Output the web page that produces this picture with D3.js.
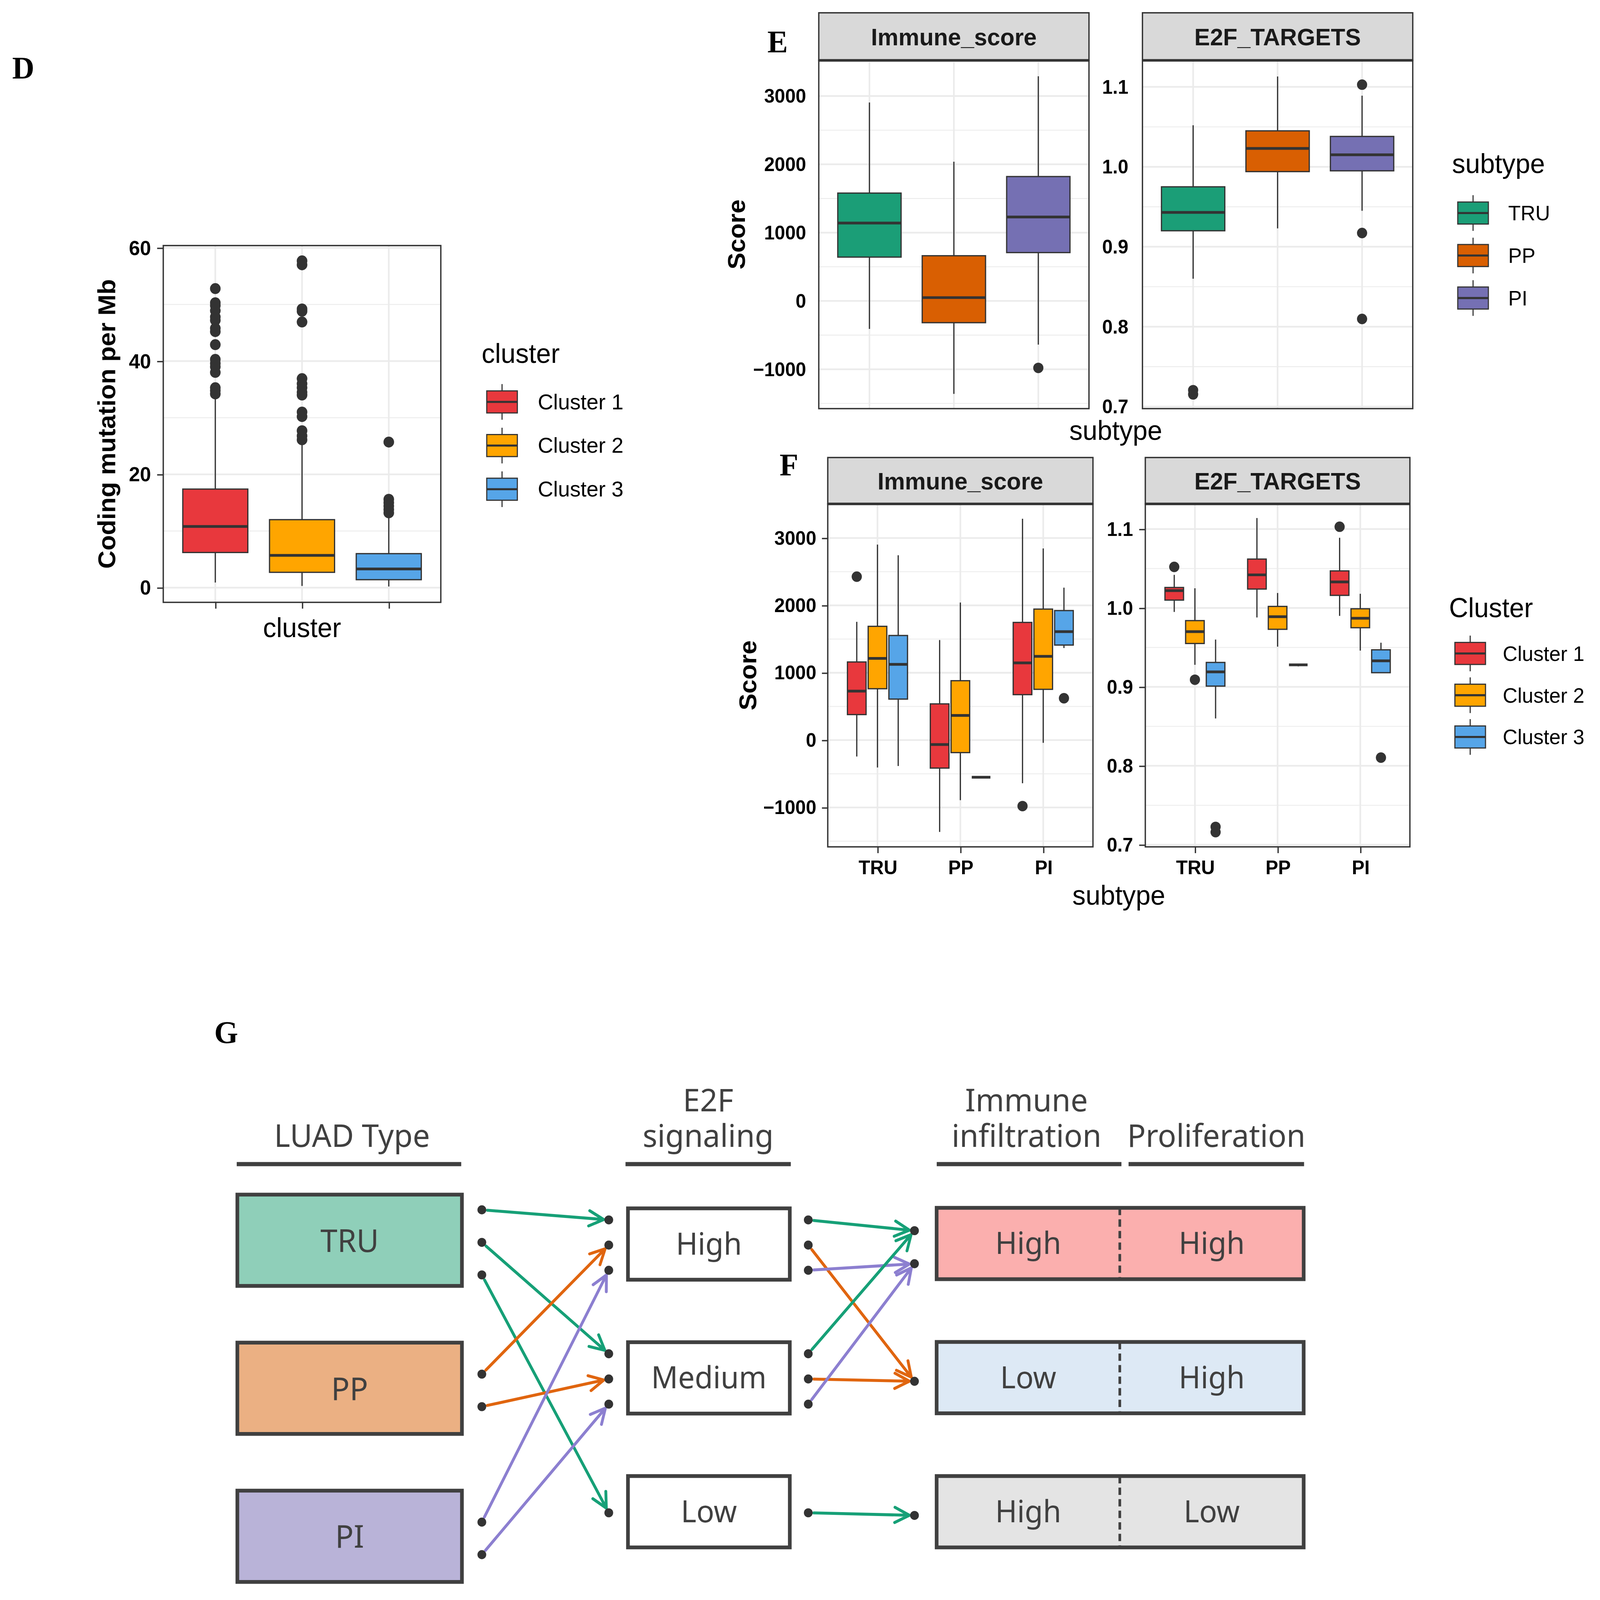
<!DOCTYPE html>
<html><head><meta charset="utf-8">
<script src="https://cdn.jsdelivr.net/npm/d3@7"></script>
<style>html,body{margin:0;padding:0;background:#fff;overflow:hidden}#chart{display:block;width:100vw;height:100vh}</style>
</head><body>
<svg id="chart"></svg>
<script>
// ---------------- DATA ----------------
const clusterNames = ["Cluster 1","Cluster 2","Cluster 3"];
const clusterColors = ["#E8383D","#FFA500","#56A5E8"];
const subtypeNames = ["TRU","PP","PI"];
const subtypeColors = ["#1B9E77","#D95F02","#7570B3"];

// D: [lower whisker, Q1, median, Q3, upper whisker]
const tmbStats = [[0.9,6.2,10.8,17.4,33.5],[0.3,2.7,5.7,12.0,25.2],[0.2,1.4,3.3,6.0,12.6]];
const tmbOutliers = [
  [52.8,50.3,49.8,48.9,47.8,47.2,45.8,45.2,42.9,40.3,39.6,39.0,38.0,35.3,34.8,34.2],
  [57.7,57.0,49.2,48.8,46.9,36.9,36.0,35.3,34.5,34.0,31.0,30.2,27.7,26.8,26.1],
  [25.7,15.6,15.0,14.4,13.8,13.2]];
const tmbTicks = [0,20,40,60];
const tmbMinor = [10,30,50];

// E
const immuneBySubtype = [[-409,642,1141,1579,2905],[-1360,-318,49,662,2038],[-639,708,1229,1821,3289]];
const immuneBySubtypeOut = [[],[],[-980]];
const e2fBySubtype = [[0.860,0.920,0.943,0.975,1.052],[0.923,0.994,1.023,1.045,1.113],[0.945,0.995,1.015,1.038,1.089]];
const e2fBySubtypeOut = [[0.7206,0.7153],[],[1.1028,0.9172,0.8097]];
const immuneTicks = [-1000,0,1000,2000,3000];
const immuneMinor = [-1500,-500,500,1500,2500,3500];
const e2fTicks = [0.7,0.8,0.9,1.0,1.1];
const e2fMinor = [0.75,0.85,0.95,1.05];
const facetNames = ["Immune_score","E2F_TARGETS"];

// F: [subtype][cluster] -> [lower whisker, Q1, median, Q3, upper whisker]
const immuneByCluster = [
  [[-243,379,728,1160,1756],[-406,763,1213,1689,2902],[-384,609,1125,1553,2744]],
  [[-1363,-415,-66,538,1486],[-891,-185,366,882,2042],[-551,-551,-551,-551,-551]],
  [[-640,675,1147,1747,3286],[-40,754,1244,1945,2845],[1367,1411,1610,1923,2263]]];
const immuneByClusterOut = [[[2426],[],[]],[[],[],[]],[[-979],[],[622]]];
const e2fByCluster = [
  [[0.995,1.010,1.022,1.026,1.042],[0.928,0.955,0.970,0.984,1.025],[0.860,0.901,0.919,0.931,0.960]],
  [[0.988,1.024,1.042,1.062,1.114],[0.951,0.973,0.989,1.002,1.019],[0.926,0.928,0.928,0.928,0.928]],
  [[0.990,1.016,1.033,1.047,1.089],[0.946,0.975,0.987,0.999,1.018],[0.918,0.918,0.933,0.947,0.956]]];
const e2fByClusterOut = [[[1.0521],[0.9091],[0.7226,0.7159]],[[],[],[]],[[1.1030],[],[0.8104]]];

// G
const gHeaders = [["LUAD Type"],["E2F","signaling"],["Immune","infiltration"],["Proliferation"]];
const luadTypes = ["TRU","PP","PI"];
const luadFills = ["#8FCFB9","#EBB083","#B9B3D8"];
const luadSlots = [3,2,2];
const e2fLevels = ["High","Medium","Low"];
const e2fSlots = [3,3,1];
const phenoLabels = [["High","High"],["Low","High"],["High","Low"]];
const phenoFills = ["#FBAFAE","#DDE9F5","#E4E4E4"];
const phenoSlots = [2,1,1];
const arrowColors = ["#16A077","#E0650F","#8C7FD0"];
// [from row, from slot, to row, to slot, colour]
const linksTypeToE2F = [[0,0,0,0,0],[0,1,1,0,0],[0,2,2,0,0],[1,0,0,1,1],[1,1,1,1,1],[2,0,0,2,2],[2,1,1,2,2]];
const linksE2FToPheno = [[0,0,0,0,0],[0,1,1,0,1],[0,2,0,1,2],[1,0,0,0,0],[1,1,1,0,1],[1,2,0,1,2],[2,0,2,0,0]];

// ---------------- SETUP ----------------
const W = 4238, H = 4121, S = W / 1568, VH = H / S;
const svg = d3.select("#chart")
  .attr("viewBox", `0 0 1568 ${VH}`).attr("preserveAspectRatio", "none");
svg.append("rect").attr("width", 1568).attr("height", VH).attr("fill", "#fff");
const SANS = "'Liberation Sans', Arial, sans-serif";
const SERIF = "'Liberation Serif','Times New Roman',serif";
const GF = "'Noto Sans','Open Sans',sans-serif";
const DARK = "#333333";

function txt(x, y, t, o = {}) {
  const e = svg.append("text").attr("x", x).attr("y", y).text(t)
    .attr("font-family", o.family || SANS).attr("font-size", o.size || 20)
    .attr("font-weight", o.weight || "normal").attr("fill", o.fill || "#000")
    .attr("text-anchor", o.anchor || "start");
  if (o.rotate) e.attr("transform", `rotate(-90,${x},${y})`);
  return e;
}

function panelBg(x0, x1, y0, y1, y, majors, minors, xs) {
  const g = svg.append("g");
  g.append("rect").attr("x", x0).attr("y", y0).attr("width", x1 - x0).attr("height", y1 - y0).attr("fill", "#fff");
  g.selectAll(null).data(minors.filter(d => y(d) > y0 && y(d) < y1)).join("line")
    .attr("x1", x0).attr("x2", x1).attr("y1", d => y(d)).attr("y2", d => y(d))
    .attr("stroke", "#EBEBEB").attr("stroke-width", 0.8);
  g.selectAll(null).data(majors).join("line")
    .attr("x1", x0).attr("x2", x1).attr("y1", d => y(d)).attr("y2", d => y(d))
    .attr("stroke", "#EBEBEB").attr("stroke-width", 1.6);
  g.selectAll(null).data(xs).join("line")
    .attr("x1", d => d).attr("x2", d => d).attr("y1", y0).attr("y2", y1)
    .attr("stroke", "#EBEBEB").attr("stroke-width", 1.6);
  return g;
}
function panelBorder(x0, x1, y0, y1) {
  svg.append("rect").attr("x", x0).attr("y", y0).attr("width", x1 - x0).attr("height", y1 - y0)
    .attr("fill", "none").attr("stroke", DARK).attr("stroke-width", 1.3);
}
function strip(x0, x1, top, bottom, label) {
  svg.append("rect").attr("x", x0).attr("y", top).attr("width", x1 - x0).attr("height", bottom - top)
    .attr("fill", "#D9D9D9").attr("stroke", DARK).attr("stroke-width", 1.3);
  svg.append("line").attr("x1", x0).attr("x2", x1).attr("y1", bottom).attr("y2", bottom)
    .attr("stroke", DARK).attr("stroke-width", 2.4);
  txt((x0 + x1) / 2, (top + bottom) / 2 + 8.3, label, {size: 23, weight: "bold", anchor: "middle", fill: "#1A1A1A"});
}
function boxplot(cx, w, y, st, col, outs, r) {
  const g = svg.append("g");
  g.append("line").attr("x1", cx).attr("x2", cx).attr("y1", y(st[0])).attr("y2", y(st[1])).attr("stroke", DARK).attr("stroke-width", 1.2);
  g.append("line").attr("x1", cx).attr("x2", cx).attr("y1", y(st[3])).attr("y2", y(st[4])).attr("stroke", DARK).attr("stroke-width", 1.2);
  g.append("rect").attr("x", cx - w / 2).attr("width", w).attr("y", y(st[3])).attr("height", Math.max(0, y(st[1]) - y(st[3])))
    .attr("fill", col).attr("stroke", DARK).attr("stroke-width", 1.2);
  g.append("line").attr("x1", cx - w / 2).attr("x2", cx + w / 2).attr("y1", y(st[2])).attr("y2", y(st[2])).attr("stroke", DARK).attr("stroke-width", 2.6);
  g.selectAll("circle").data(outs).join("circle").attr("cx", cx).attr("cy", d => y(d)).attr("r", r).attr("fill", DARK);
}
function leftAxis(y, ticks, fmt, x0, tl, pad, fs) {
  const ax = d3.axisLeft(y).tickValues(ticks).tickFormat(fmt).tickSize(tl).tickPadding(pad);
  const g = svg.append("g").attr("transform", `translate(${x0},0)`).call(ax);
  g.select(".domain").remove();
  g.selectAll(".tick line").attr("stroke", DARK).attr("stroke-width", tl > 0 ? 1.3 : 0);
  g.selectAll(".tick text").attr("font-family", SANS).attr("font-weight", "bold").attr("font-size", fs).attr("fill", "#000");
}
function bottomAxis(x, y0, tl, pad, fs, showLabels) {
  const ax = d3.axisBottom(x).tickSize(tl).tickPadding(pad);
  if (!showLabels) ax.tickFormat("");
  const g = svg.append("g").attr("transform", `translate(0,${y0})`).call(ax);
  g.select(".domain").remove();
  g.selectAll(".tick line").attr("stroke", DARK).attr("stroke-width", 1.3);
  g.selectAll(".tick text").attr("font-family", SANS).attr("font-weight", "bold").attr("font-size", fs).attr("fill", "#000");
}
function legend(title, names, colors, tx, ty, kx, c0, step, lx, lfs) {
  txt(tx, ty, title, {size: 26});
  names.forEach((n, i) => {
    const c = c0 + i * step;
    svg.append("line").attr("x1", kx + 15).attr("x2", kx + 15).attr("y1", c - 17).attr("y2", c + 17).attr("stroke", DARK).attr("stroke-width", 1.1);
    svg.append("rect").attr("x", kx).attr("y", c - 10.5).attr("width", 30).attr("height", 21)
      .attr("fill", colors[i]).attr("stroke", DARK).attr("stroke-width", 1.1);
    svg.append("line").attr("x1", kx).attr("x2", kx + 30).attr("y1", c).attr("y2", c).attr("stroke", DARK).attr("stroke-width", 2);
    txt(lx, c + 7, n, {size: lfs});
  });
}

// ---------------- PANEL LETTERS ----------------
[["D", 12, 75], ["E", 752, 50], ["F", 764, 453], ["G", 210, 994]].forEach(d =>
  txt(d[1], d[2], d[0], {family: SERIF, weight: "bold", size: 30}));

// ---------------- PANEL D ----------------
{
  const x0 = 160, x1 = 432, y0 = 234, y1 = 574;
  const x = d3.scalePoint().domain(clusterNames).range([x0, x1]).padding(0.6);
  const y = d3.scaleLinear().domain([-2.6, 60.4]).range([y1, y0]);
  panelBg(x0, x1, y0, y1, y, tmbTicks, tmbMinor, clusterNames.map(c => x(c)));
  clusterNames.forEach((c, i) => boxplot(x(c), x.step() * 0.75, y, tmbStats[i], clusterColors[i], tmbOutliers[i], 5.2));
  panelBorder(x0, x1, y0, y1);
  leftAxis(y, tmbTicks, d3.format("d"), x0, 6, 6, 19.5);
  bottomAxis(x, y1, 6, 4, 19, false);
  txt(113, (y0 + y1) / 2, "Coding mutation per Mb", {size: 24, weight: "bold", anchor: "middle", rotate: true});
  txt((x0 + x1) / 2, 607, "cluster", {size: 26, anchor: "middle"});
  legend("cluster", clusterNames, clusterColors, 472, 346, 477, 383, 41.6, 527, 21);
}

// ---------------- PANEL E ----------------
{
  const y0 = 57.5, y1 = 389.4, top = 12.2;
  const px = [[802.4, 1067.2], [1119.6, 1384.5]];
  const yI = d3.scaleLinear().domain([-1576, 3522]).range([y1, y0]);
  const yE = d3.scaleLinear().domain([0.6975, 1.1332]).range([y1, y0]);
  const scalesY = [yI, yE];
  const stats = [immuneBySubtype, e2fBySubtype];
  const outs = [immuneBySubtypeOut, e2fBySubtypeOut];
  const majors = [immuneTicks, e2fTicks], minors = [immuneMinor, e2fMinor];
  px.forEach((p, k) => {
    const x = d3.scalePoint().domain(subtypeNames).range(p).padding(0.6);
    panelBg(p[0], p[1], y0, y1, scalesY[k], majors[k], minors[k], subtypeNames.map(s => x(s)));
    subtypeNames.forEach((s, i) => boxplot(x(s), x.step() * 0.75, scalesY[k], stats[k][i], subtypeColors[i], outs[k][i], 5));
    panelBorder(p[0], p[1], y0, y1);
    strip(p[0], p[1], top, y0, facetNames[k]);
  });
  leftAxis(yI, immuneTicks, d3.format("d"), px[0][0], 0, 12.4, 18.5);
  leftAxis(yE, e2fTicks, d3.format(".1f"), px[1][0], 0, 13.8, 18.5);
  txt(730, (y0 + y1) / 2, "Score", {size: 24, weight: "bold", anchor: "middle", rotate: true});
  txt((px[0][0] + px[1][1]) / 2, 419, "subtype", {size: 26, anchor: "middle"});
  legend("subtype", subtypeNames, subtypeColors, 1423, 165, 1428.6, 203, 40.5, 1478, 20);
}

// ---------------- PANEL F ----------------
{
  const y0 = 480.2, y1 = 807, top = 436;
  const px = [[811.2, 1071.1], [1122.4, 1381.7]];
  const yI = d3.scaleLinear().domain([-1584, 3506]).range([y1, y0]);
  const yE = d3.scaleLinear().domain([0.6973, 1.1319]).range([y1, y0]);
  const scalesY = [yI, yE];
  const stats = [immuneByCluster, e2fByCluster];
  const outs = [immuneByClusterOut, e2fByClusterOut];
  const majors = [immuneTicks, e2fTicks], minors = [immuneMinor, e2fMinor];
  px.forEach((p, k) => {
    const x = d3.scalePoint().domain(subtypeNames).range(p).padding(0.6);
    panelBg(p[0], p[1], y0, y1, scalesY[k], majors[k], minors[k], subtypeNames.map(s => x(s)));
    const dodge = x.step() * 0.25;
    subtypeNames.forEach((s, i) => clusterNames.forEach((c, j) =>
      boxplot(x(s) + (j - 1) * dodge, dodge * 0.9, scalesY[k], stats[k][i][j], clusterColors[j], outs[k][i][j], 5)));
    panelBorder(p[0], p[1], y0, y1);
    strip(p[0], p[1], top, y0, facetNames[k]);
    bottomAxis(x, y1, 6, 7, 18.5, true);
  });
  leftAxis(yI, immuneTicks, d3.format("d"), px[0][0], 5.7, 5.5, 18.5);
  leftAxis(yE, e2fTicks, d3.format(".1f"), px[1][0], 6, 6, 18.5);
  txt(741, (y0 + y1) / 2, "Score", {size: 24, weight: "bold", anchor: "middle", rotate: true});
  txt((px[0][0] + px[1][1]) / 2, 862, "subtype", {size: 26, anchor: "middle"});
  legend("Cluster", clusterNames, clusterColors, 1420, 588, 1425.8, 622.7, 39.8, 1472.7, 20);
}

// ---------------- PANEL G ----------------
{
  const TC = "#404040";
  const colL = [232.6, 452.7], colM = [615.4, 774], colR = [917.9, 1277.6], divX = 1097.4;
  const rowL = d3.scalePoint().domain(luadTypes).range([1181.9, 1464]);
  const rowM = d3.scalePoint().domain(e2fLevels).range([1185.5, 1440.6]);
  const rowR = d3.scalePoint().domain(d3.range(3)).range([1185, 1440.6]);
  const hL = 87, hM = 68;

  // headers (multi-line headers as one text with tspans)
  const hx = [345, 694, 1006, 1192];
  const ul = [[232, 452], [613, 775], [918, 1099], [1106, 1278]];
  gHeaders.forEach((lines, i) => {
    const t = svg.append("text").attr("font-family", GF).attr("font-size", 30)
      .attr("fill", TC).attr("text-anchor", "middle");
    lines.forEach((s, j) => t.append("tspan").attr("x", hx[i])
      .attr("y", 1093 - (lines.length - 1 - j) * 34).text(s));
    svg.append("line").attr("x1", ul[i][0]).attr("x2", ul[i][1]).attr("y1", 1109.3).attr("y2", 1109.3)
      .attr("stroke", TC).attr("stroke-width", 4);
  });

  const boxStyle = sel => sel.attr("stroke", TC).attr("stroke-width", 3.6);
  luadTypes.forEach((t, i) => {
    const c = rowL(t);
    boxStyle(svg.append("rect").attr("x", colL[0]).attr("y", c - hL / 2).attr("width", colL[1] - colL[0]).attr("height", hL).attr("fill", luadFills[i]));
    txt((colL[0] + colL[1]) / 2, c + 11, t, {family: GF, size: 30, anchor: "middle", fill: TC});
  });
  e2fLevels.forEach((t, i) => {
    const c = rowM(t);
    boxStyle(svg.append("rect").attr("x", colM[0]).attr("y", c - hM / 2).attr("width", colM[1] - colM[0]).attr("height", hM).attr("fill", "#fff"));
    txt((colM[0] + colM[1]) / 2, c + 10, t, {family: GF, size: 29, anchor: "middle", fill: TC});
  });
  phenoLabels.forEach((labs, i) => {
    const c = rowR(i);
    boxStyle(svg.append("rect").attr("x", colR[0]).attr("y", c - hM / 2).attr("width", colR[1] - colR[0]).attr("height", hM).attr("fill", phenoFills[i]));
    svg.append("line").attr("x1", divX).attr("x2", divX).attr("y1", c - hM / 2).attr("y2", c + hM / 2)
      .attr("stroke", TC).attr("stroke-width", 2.6).attr("stroke-dasharray", "7,4");
    txt((colR[0] + divX) / 2, c + 10, labs[0], {family: GF, size: 29, anchor: "middle", fill: TC});
    txt((divX + colR[1]) / 2, c + 10, labs[1], {family: GF, size: 29, anchor: "middle", fill: TC});
  });

  const slotY = (center, n, i, sp, off) => center + (i - (n - 1) / 2) * sp + off;
  const dotL = (r, s) => [472.2, slotY(rowL(luadTypes[r]), luadSlots[r], s, 31, 2)];
  const dotMi = (r, s) => [596.6, slotY(rowM(e2fLevels[r]), e2fSlots[r], s, 24, 1)];
  const dotMo = (r, s) => [792.1, slotY(rowM(e2fLevels[r]), e2fSlots[r], s, 24, 1)];
  const dotR = (r, s) => [896.2, slotY(rowR(r), phenoSlots[r], s, 31.5, 3.5)];

  function arrow(a, b, col) {
    const dx = b[0] - a[0], dy = b[1] - a[1], L = Math.hypot(dx, dy);
    const ux = dx / L, uy = dy / L, nx = -uy, ny = ux;
    const s = [a[0] + ux * 5.5, a[1] + uy * 5.5], t = [b[0] - ux * 5, b[1] - uy * 5];
    const hl = 16, ca = Math.cos(0.47) * hl, sa = Math.sin(0.47) * hl;
    const p = d3.path();
    p.moveTo(s[0], s[1]); p.lineTo(t[0], t[1]);
    p.moveTo(t[0] - ux * ca + nx * sa, t[1] - uy * ca + ny * sa); p.lineTo(t[0], t[1]);
    p.lineTo(t[0] - ux * ca - nx * sa, t[1] - uy * ca - ny * sa);
    svg.append("path").attr("d", p.toString()).attr("fill", "none").attr("stroke", col)
      .attr("stroke-width", 2.8).attr("stroke-linecap", "round").attr("stroke-linejoin", "round");
  }
  linksTypeToE2F.forEach(l => arrow(dotL(l[0], l[1]), dotMi(l[2], l[3]), arrowColors[l[4]]));
  linksE2FToPheno.forEach(l => arrow(dotMo(l[0], l[1]), dotR(l[2], l[3]), arrowColors[l[4]]));

  const dots = [];
  luadTypes.forEach((t, r) => d3.range(luadSlots[r]).forEach(s => dots.push(dotL(r, s))));
  e2fLevels.forEach((t, r) => d3.range(e2fSlots[r]).forEach(s => { dots.push(dotMi(r, s)); dots.push(dotMo(r, s)); }));
  phenoSlots.forEach((n, r) => d3.range(n).forEach(s => dots.push(dotR(r, s))));
  svg.append("g").selectAll("circle").data(dots).join("circle")
    .attr("cx", d => d[0]).attr("cy", d => d[1]).attr("r", 4.3).attr("fill", DARK);
}
</script>
</body></html>
